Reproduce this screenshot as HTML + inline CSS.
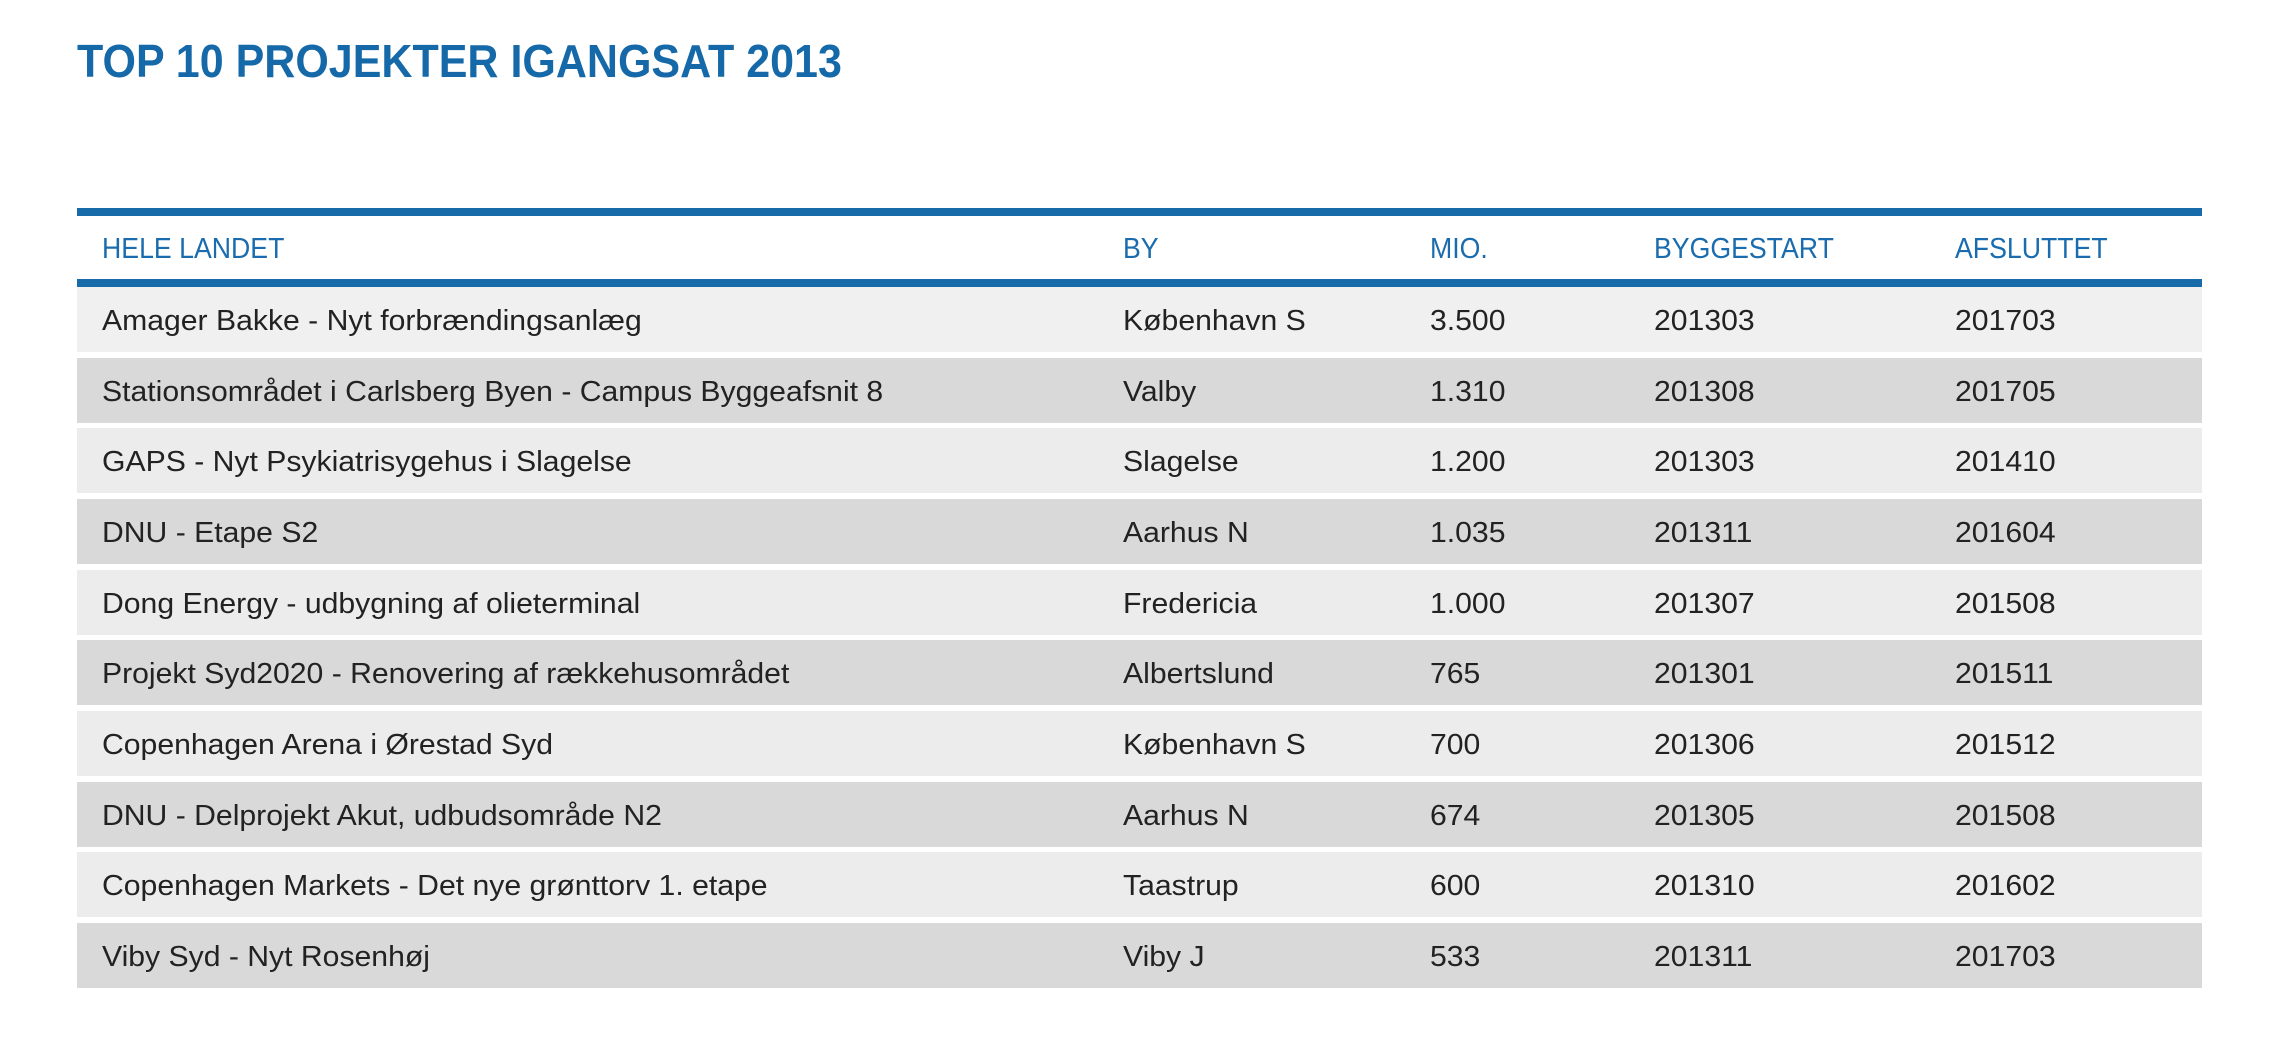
<!DOCTYPE html>
<html><head><meta charset="utf-8"><style>
body{margin:0;width:2280px;height:1057px;background:#fff;position:relative;overflow:hidden;font-family:"Liberation Sans",sans-serif;}
.t{position:absolute;left:77px;top:34px;font-size:46px;font-weight:bold;color:#1569a8;transform:scaleX(0.935);transform-origin:left;white-space:nowrap;line-height:54px;}
.bar{position:absolute;left:77px;width:2125px;height:8px;background:#176ba8;}
.hd{position:absolute;top:218px;height:63px;line-height:63px;font-size:29px;color:#1a6cae;transform:scaleX(0.92);transform-origin:left;white-space:nowrap;}
.row{position:absolute;left:77px;width:2125px;height:65px;}
.c{position:absolute;top:2px;line-height:65px;font-size:29px;color:#222;white-space:nowrap;transform:scaleX(1.04);transform-origin:left;}
</style></head><body>
<div class="t">TOP 10 PROJEKTER IGANGSAT 2013</div>
<div class="bar" style="top:208px"></div>
<div class="hd" style="left:102px">HELE LANDET</div>
<div class="hd" style="left:1123px">BY</div>
<div class="hd" style="left:1430px">MIO.</div>
<div class="hd" style="left:1654px">BYGGESTART</div>
<div class="hd" style="left:1955px">AFSLUTTET</div>
<div class="bar" style="top:279px"></div>
<div class="row" style="top:287px;background:#f0f0f0"><div class="c" style="left:25px">Amager Bakke - Nyt forbrændingsanlæg</div><div class="c" style="left:1046px">København S</div><div class="c" style="left:1353px">3.500</div><div class="c" style="left:1577px">201303</div><div class="c" style="left:1878px">201703</div></div>
<div class="row" style="top:358px;background:#d9d9d9"><div class="c" style="left:25px">Stationsområdet i Carlsberg Byen - Campus Byggeafsnit 8</div><div class="c" style="left:1046px">Valby</div><div class="c" style="left:1353px">1.310</div><div class="c" style="left:1577px">201308</div><div class="c" style="left:1878px">201705</div></div>
<div class="row" style="top:428px;background:#ececec"><div class="c" style="left:25px">GAPS - Nyt Psykiatrisygehus i Slagelse</div><div class="c" style="left:1046px">Slagelse</div><div class="c" style="left:1353px">1.200</div><div class="c" style="left:1577px">201303</div><div class="c" style="left:1878px">201410</div></div>
<div class="row" style="top:499px;background:#d9d9d9"><div class="c" style="left:25px">DNU - Etape S2</div><div class="c" style="left:1046px">Aarhus N</div><div class="c" style="left:1353px">1.035</div><div class="c" style="left:1577px">201311</div><div class="c" style="left:1878px">201604</div></div>
<div class="row" style="top:570px;background:#ececec"><div class="c" style="left:25px">Dong Energy - udbygning af olieterminal</div><div class="c" style="left:1046px">Fredericia</div><div class="c" style="left:1353px">1.000</div><div class="c" style="left:1577px">201307</div><div class="c" style="left:1878px">201508</div></div>
<div class="row" style="top:640px;background:#d9d9d9"><div class="c" style="left:25px">Projekt Syd2020 - Renovering af rækkehusområdet</div><div class="c" style="left:1046px">Albertslund</div><div class="c" style="left:1353px">765</div><div class="c" style="left:1577px">201301</div><div class="c" style="left:1878px">201511</div></div>
<div class="row" style="top:711px;background:#ececec"><div class="c" style="left:25px">Copenhagen Arena i Ørestad Syd</div><div class="c" style="left:1046px">København S</div><div class="c" style="left:1353px">700</div><div class="c" style="left:1577px">201306</div><div class="c" style="left:1878px">201512</div></div>
<div class="row" style="top:782px;background:#d9d9d9"><div class="c" style="left:25px">DNU - Delprojekt Akut, udbudsområde N2</div><div class="c" style="left:1046px">Aarhus N</div><div class="c" style="left:1353px">674</div><div class="c" style="left:1577px">201305</div><div class="c" style="left:1878px">201508</div></div>
<div class="row" style="top:852px;background:#ececec"><div class="c" style="left:25px">Copenhagen Markets - Det nye grønttorv 1. etape</div><div class="c" style="left:1046px">Taastrup</div><div class="c" style="left:1353px">600</div><div class="c" style="left:1577px">201310</div><div class="c" style="left:1878px">201602</div></div>
<div class="row" style="top:923px;background:#d9d9d9"><div class="c" style="left:25px">Viby Syd - Nyt Rosenhøj</div><div class="c" style="left:1046px">Viby J</div><div class="c" style="left:1353px">533</div><div class="c" style="left:1577px">201311</div><div class="c" style="left:1878px">201703</div></div>
</body></html>
